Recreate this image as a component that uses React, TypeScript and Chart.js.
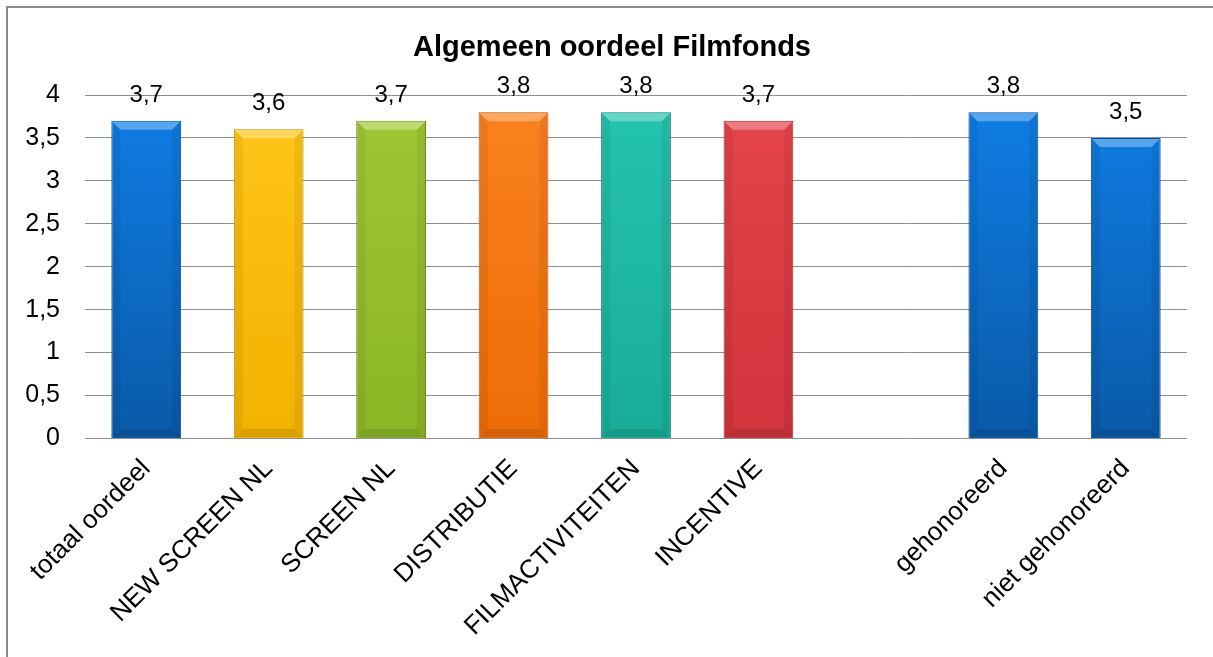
import React, { useEffect, useRef } from "react";
import { Chart, registerables } from "chart.js";

Chart.register(...registerables);

const chartTitle = "Algemeen oordeel Filmfonds";
const categories = [
  "totaal oordeel",
  "NEW SCREEN NL",
  "SCREEN NL",
  "DISTRIBUTIE",
  "FILMACTIVITEITEN",
  "INCENTIVE",
  "",
  "gehonoreerd",
  "niet gehonoreerd",
];
const scores: (number | null)[] = [3.7, 3.6, 3.7, 3.8, 3.8, 3.7, null, 3.8, 3.5];
const barColors = [
  ["#0f7ee6", "#0a5aa8"],
  ["#ffc61a", "#f2b200"],
  ["#a0c835", "#8ab526"],
  ["#fb8220", "#ec6c08"],
  ["#24c4ae", "#19ac98"],
  ["#e5444c", "#d0343c"],
  ["#ffffff", "#ffffff"],
  ["#0f7ee6", "#0a5aa8"],
  ["#0f7ee6", "#0a5aa8"],
];
const borderColors = ["#0a4f94", "#b88a00", "#6c8c1a", "#b85206", "#0e7f70", "#9c2228", "#fff", "#0a4f94", "#0a4f94"];
const yTicks = [0, 0.5, 1, 1.5, 2, 2.5, 3, 3.5, 4];

const FONT = "Arial, 'Liberation Sans', sans-serif";
const fmt = (v: number) => String(v).replace(".", ",");

const shade = (hex: string, amt: number) => {
  const n = parseInt(hex.slice(1), 16);
  const r = (n >> 16) & 255, g = (n >> 8) & 255, b = n & 255;
  const f = (c: number) => Math.max(0, Math.min(255, Math.round(amt > 0 ? c + (255 - c) * amt : c * (1 + amt))));
  return `rgb(${f(r)},${f(g)},${f(b)})`;
};

const titlePlugin = {
  id: "customTitle",
  afterDraw(chart: any) {
    const { ctx } = chart;
    ctx.save();
    ctx.fillStyle = "#000";
    ctx.font = `bold 29px ${FONT}`;
    ctx.textAlign = "center";
    ctx.textBaseline = "alphabetic";
    ctx.fillText(chartTitle, 604, 48);
    ctx.restore();
  },
};

const bevelPlugin = {
  id: "bevel",
  afterDatasetsDraw(chart: any) {
    const { ctx } = chart;
    const meta = chart.getDatasetMeta(0);
    meta.data.forEach((bar: any, i: number) => {
      const v = scores[i];
      if (v == null) return;
      const { x, y, width, base } = bar.getProps(["x", "y", "width", "base"], true);
      const l = x - width / 2, r = x + width / 2;
      const d = 9;
      const col = barColors[i][0];
      ctx.save();
      ctx.fillStyle = shade(col, 0.3);
      ctx.beginPath();
      ctx.moveTo(l + 1, y + 1);
      ctx.lineTo(r - 1, y + 1);
      ctx.lineTo(r - d, y + d);
      ctx.lineTo(l + d, y + d);
      ctx.closePath();
      ctx.fill();
      ctx.fillStyle = "rgba(0,0,0,0.06)";
      ctx.beginPath();
      ctx.moveTo(r - 1, y + 1);
      ctx.lineTo(r - 1, base - 1);
      ctx.lineTo(r - d, base - d);
      ctx.lineTo(r - d, y + d);
      ctx.closePath();
      ctx.fill();
      ctx.beginPath();
      ctx.moveTo(l + 1, y + 1);
      ctx.lineTo(l + 1, base - 1);
      ctx.lineTo(l + d, base - d);
      ctx.lineTo(l + d, y + d);
      ctx.closePath();
      ctx.fill();
      ctx.fillStyle = "rgba(0,0,0,0.1)";
      ctx.beginPath();
      ctx.moveTo(l + 1, base - 1);
      ctx.lineTo(r - 1, base - 1);
      ctx.lineTo(r - d, base - d);
      ctx.lineTo(l + d, base - d);
      ctx.closePath();
      ctx.fill();
      ctx.fillStyle = "#000";
      ctx.font = `24px ${FONT}`;
      ctx.textAlign = "center";
      ctx.textBaseline = "alphabetic";
      ctx.fillText(v.toFixed(1).replace(".", ","), x, y - 19);
      ctx.restore();
    });
  },
};

export default function App() {
  const ref = useRef<HTMLCanvasElement | null>(null);
  useEffect(() => {
    if (!ref.current) return;
    const chart = new Chart(ref.current, {
      type: "bar",
      data: {
        labels: categories,
        datasets: [
          {
            data: scores as any,
            backgroundColor: (c: any) => {
              const i = c.dataIndex;
              const area = c.chart.chartArea;
              if (!area) return barColors[i][0];
              const g = c.chart.ctx.createLinearGradient(0, area.top, 0, area.bottom);
              g.addColorStop(0, barColors[i][0]);
              g.addColorStop(1, barColors[i][1]);
              return g;
            },
            borderColor: borderColors,
            borderWidth: 1,
            categoryPercentage: 1,
            barPercentage: 0.57,
          },
        ],
      },
      options: {
        responsive: false,
        animation: false,
        layout: { autoPadding: false, padding: { left: 0, right: 11, top: 87, bottom: 0 } },
        plugins: {
          legend: { display: false },
          tooltip: { enabled: false },
          title: { display: false },
        },
        scales: {
          x: {
            grid: { display: false, drawTicks: false },
            border: { display: false },
            ticks: {
              color: "#000",
              font: { family: FONT, size: 26 },
              maxRotation: 45,
              minRotation: 45,
              autoSkip: false,
              padding: 15,
            },
          },
          y: {
            min: 0,
            max: 4,
            afterBuildTicks: (axis: any) => {
              axis.ticks = yTicks.map((v) => ({ value: v }));
            },
            afterFit: (axis: any) => {
              axis.width = 77;
            },
            grid: { color: "#8f8f8f", lineWidth: 1, drawTicks: false },
            border: { display: false },
            ticks: {
              color: "#000",
              font: { family: FONT, size: 25 },
              padding: 25,
              callback: (v: any) => fmt(Number(v)),
            },
          },
        },
      },
      plugins: [bevelPlugin, titlePlugin],
    });
    return () => chart.destroy();
  }, []);
  return (
    <>
      <div
        style={{
          position: "fixed",
          left: 6,
          top: 6,
          width: 1300,
          height: 800,
          border: "2px solid #8c8c8c",
          pointerEvents: "none",
        }}
      />
      <canvas ref={ref} width={1190} height={649} style={{ display: "block" }} />
    </>
  );
}
